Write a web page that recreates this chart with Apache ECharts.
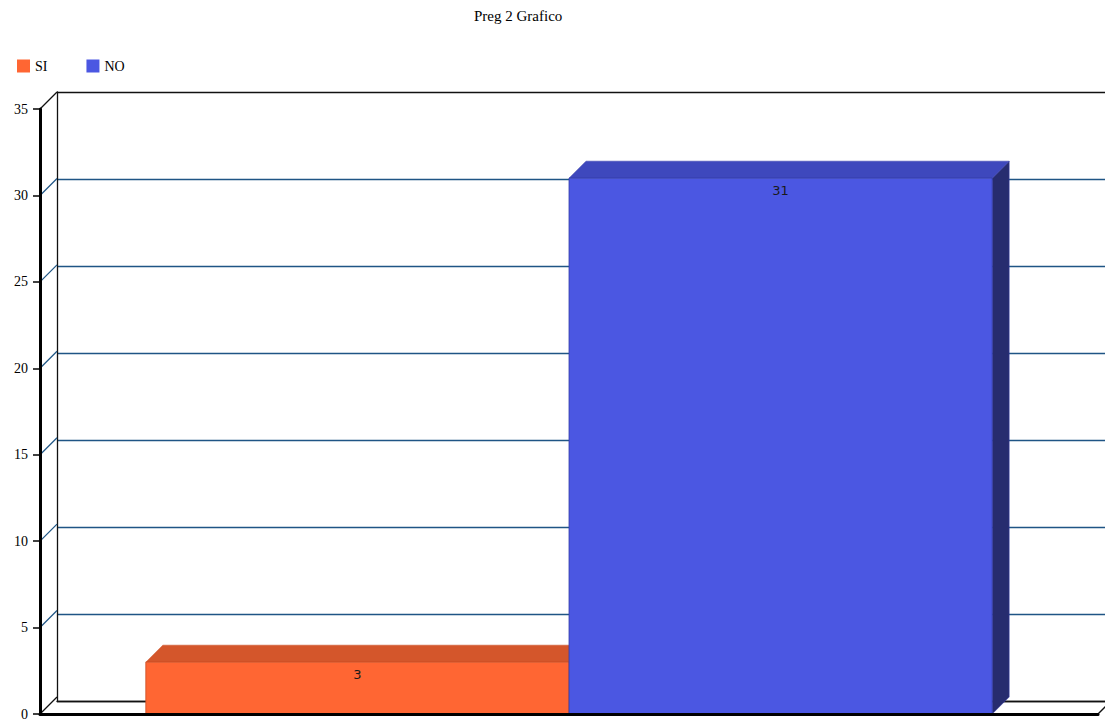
<!DOCTYPE html>
<html>
<head>
<meta charset="utf-8">
<script src="https://cdn.jsdelivr.net/npm/echarts@6/dist/echarts.min.js"></script>
<style>html,body{margin:0;padding:0;background:#fff}#c{width:1105px;height:721px}</style>
</head>
<body>
<div id="c"></div>
<script>
const titleText = 'Preg 2 Grafico';
const categories = ['Preg 2'];
const seriesNames = ['SI', 'NO'];
const siValues = [3];
const noValues = [31];
const yTicks = [0, 5, 10, 15, 20, 25, 30, 35];

const D = 17; // depth offset in px
const colors = {
  SI: { front: '#FF6633', top: '#D4562B', side: '#A8401E', border: '#C94C22' },
  NO: { front: '#4B57E2', top: '#3E48BD', side: '#272C6F', border: '#343DA8' }
};
const gridBlue = '#1F5585';

function barRender(sIdx, nSeries, c) {
  return function (params, api) {
    const cat = api.value(0);
    const val = api.value(1);
    const base = api.coord([cat, 0]);
    const top = api.coord([cat, val]);
    const band = api.size([1, 0])[0];
    const barW = band * 0.8 / nSeries;
    const x0 = base[0] - band * 0.4 + sIdx * barW;
    const x1 = x0 + barW;
    const yb = base[1], yt = top[1];
    return {
      type: 'group',
      children: [
        { type: 'polygon', shape: { points: [[x1, yt], [x1 + D, yt - D], [x1 + D, yb - D], [x1, yb]] },
          style: { fill: c.side, stroke: c.border, lineWidth: 0.5 } },
        { type: 'polygon', shape: { points: [[x0, yt], [x0 + D, yt - D], [x1 + D, yt - D], [x1, yt]] },
          style: { fill: c.top, stroke: c.border, lineWidth: 0.5 } },
        { type: 'rect', shape: { x: x0, y: yt, width: barW, height: yb - yt },
          style: { fill: c.front, stroke: c.border, lineWidth: 0.8 } },
        { type: 'text', style: { text: String(val), x: (x0 + x1) / 2, y: yt + 6, align: 'center', verticalAlign: 'top',
          fill: '#1a1a1a', font: '13px "DejaVu Sans", sans-serif' } }
      ]
    };
  };
}

function decorRender(params, api) {
  const v = api.value(0);
  const p = api.coord([0, v]);
  const cs = params.coordSys;
  const x = cs.x;
  const isEdge = (v === yTicks[0] || v === yTicks[yTicks.length - 1]);
  const children = [
    { type: 'line', shape: { x1: x, y1: p[1], x2: x + D, y2: p[1] - D },
      style: { stroke: isEdge ? '#111' : gridBlue, lineWidth: 1.3 } }
  ];
  if (v === yTicks[0]) {
    children.push({ type: 'line', shape: { x1: x + cs.width, y1: p[1], x2: x + cs.width + D, y2: p[1] - D },
      style: { stroke: '#111', lineWidth: 1.3 } });
  }
  return { type: 'group', children: children };
}

const chart = echarts.init(document.getElementById('c'), null, { renderer: 'svg' });
const splitColors = yTicks.map((v, i) => (i === 0 || i === yTicks.length - 1) ? '#111' : gridBlue);

chart.setOption({
  animation: false,
  backgroundColor: '#fff',
  title: {
    text: titleText, left: 474, top: 8, padding: 0,
    textStyle: { fontFamily: '"Liberation Serif", serif', fontSize: 15, fontWeight: 'normal', color: '#000' }
  },
  legend: {
    data: seriesNames, left: 17, top: 59, padding: 0, itemWidth: 13, itemHeight: 13, itemGap: 39, icon: 'rect',
    textStyle: { fontFamily: '"Liberation Serif", serif', fontSize: 14, color: '#000' }
  },
  grid: [
    { left: 40, right: 7, top: 109, bottom: 3 },
    { left: 57, right: -10, top: 92, bottom: 20 }
  ],
  xAxis: [
    { type: 'category', gridIndex: 0, data: categories, axisLine: { lineStyle: { color: '#000', width: 3 } },
      axisTick: { show: false }, axisLabel: { show: false }, splitLine: { show: false }, z: 10 },
    { type: 'category', gridIndex: 1, data: categories, axisLine: { lineStyle: { color: '#111', width: 1.3 } },
      axisTick: { show: false }, axisLabel: { show: false }, splitLine: { show: false } }
  ],
  yAxis: [
    { type: 'value', gridIndex: 0, min: 0, max: 35, interval: 5,
      axisLine: { show: true, lineStyle: { color: '#000', width: 3 } },
      axisTick: { show: true, length: 7, lineStyle: { color: '#000', width: 1.5 } },
      axisLabel: { margin: 12, fontFamily: '"Liberation Serif", serif', fontSize: 14, color: '#000' },
      splitLine: { show: false }, z: 10 },
    { type: 'value', gridIndex: 1, min: 0, max: 35, interval: 5,
      axisLine: { show: true, lineStyle: { color: '#111', width: 1.3 } },
      axisTick: { show: false }, axisLabel: { show: false },
      splitLine: { show: true, lineStyle: { color: splitColors, width: 1.4 } } }
  ],
  series: [
    { type: 'custom', name: 'decor', xAxisIndex: 0, yAxisIndex: 0, data: yTicks.map(v => [v]),
      encode: { y: 0 }, renderItem: decorRender, silent: true, z: 1 },
    { type: 'custom', name: 'SI', xAxisIndex: 0, yAxisIndex: 0, itemStyle: { color: colors.SI.front },
      data: siValues.map((v, i) => [i, v]), encode: { x: 0, y: 1 }, renderItem: barRender(0, 2, colors.SI), z: 2 },
    { type: 'custom', name: 'NO', xAxisIndex: 0, yAxisIndex: 0, itemStyle: { color: colors.NO.front },
      data: noValues.map((v, i) => [i, v]), encode: { x: 0, y: 1 }, renderItem: barRender(1, 2, colors.NO), z: 3 }
  ]
});
</script>
</body>
</html>
